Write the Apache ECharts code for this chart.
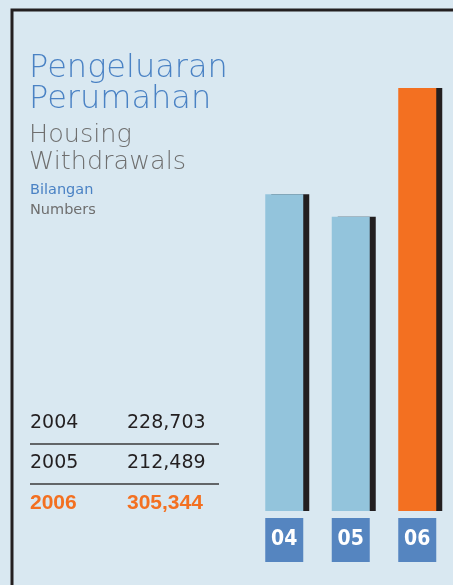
<!DOCTYPE html>
<html>
<head>
<meta charset="utf-8">
<script src="https://cdn.jsdelivr.net/npm/echarts@6/dist/echarts.min.js"></script>
<style>
  html, body { margin: 0; padding: 0; background: #d9e8f1; }
  #chart { width: 453px; height: 585px; }
</style>
</head>
<body>
<div id="chart"></div>
<script>
var years = ['2004', '2005', '2006'];
var yearLabels = ['04', '05', '06'];
var withdrawals = [228703, 212489, 305344];
var barColors = ['#93c4dc', '#93c4dc', '#f37021'];

var blue = '#4a82c4';
var grey = '#6f6f6f';
var ink = '#231f20';
var orange = '#f37021';
var font = '"DejaVu Sans", sans-serif';

var myChart = echarts.init(document.getElementById('chart'));

function txt(text, x, y, size, color, weight, family) {
    return {
        type: 'text',
        x: x,
        y: y,
        style: {
            text: text,
            fill: color,
            font: (weight || 'normal') + ' ' + size + 'px ' + (family || font),
            verticalAlign: 'middle'
        }
    }
}

var graphics = [
    // frame
    {
        type: 'polyline',
        shape: { points: [[12, 585], [12, 10], [453, 10]] },
        style: { stroke: ink, lineWidth: 3, fill: null }
    },
    txt('Pengeluaran', 29, 69, 32, blue, 200),
    txt('Perumahan', 29, 100, 32, blue, 200),
    txt('Housing', 29, 135, 25.5, grey, 200),
    txt('Withdrawals', 29, 162, 25.5, grey, 200),
    txt('Bilangan', 30, 190, 14.5, blue),
    txt('Numbers', 30, 210, 14.5, grey)
]

// table on the left
var rowY = [423, 463, 503]
years.forEach(function (y, i) {
    var last = i === years.length - 1
    var c = last ? orange : ink
    var w = last ? 'bold' : 'normal'
    var fam = last ? '"Liberation Sans", sans-serif' : font
    var size = last ? 21 : 19
    graphics.push(txt(y, 30, rowY[i], size, c, w, fam))
    graphics.push(txt(withdrawals[i].toLocaleString('en-US'), 127, rowY[i], size, c, w, fam))
    if (!last) {
        graphics.push({
            type: 'line',
            shape: { x1: 30, y1: rowY[i] + 21, x2: 219, y2: rowY[i] + 21 },
            style: { stroke: '#3a3a3a', lineWidth: 1.3 }
        })
    }
})

var option = {
    backgroundColor: '#d9e8f1',
    animation: false,
    grid: { left: 251, right: 2.5, top: 88, bottom: 74 },
    xAxis: {
        type: 'category',
        data: yearLabels,
        axisLine: { show: false },
        axisTick: { show: false },
        axisLabel: {
            margin: 7,
            color: '#fff',
            fontWeight: 'bold',
            fontSize: 21,
            fontFamily: '"Liberation Sans Narrow", "DejaVu Sans Condensed", sans-serif',
            backgroundColor: '#5585c0',
            width: 38,
            height: 44,
            lineHeight: 44,
            align: 'center'
        }
    },
    yAxis: {
        type: 'value',
        min: 0,
        max: 'dataMax',
        show: false,
        splitLine: { show: false }
    },
    series: [
        {
            type: 'bar',
            barWidth: 38,
            data: withdrawals.map(function (v, k) {
                return {
                    value: v,
                    itemStyle: {
                        color: barColors[k],
                        shadowColor: ink,
                        shadowOffsetX: 6,
                        shadowOffsetY: 0,
                        shadowBlur: 0
                    }
                }
            })
        }
    ],
    graphic: graphics
};
myChart.setOption(option);
</script>
</body>
</html>
